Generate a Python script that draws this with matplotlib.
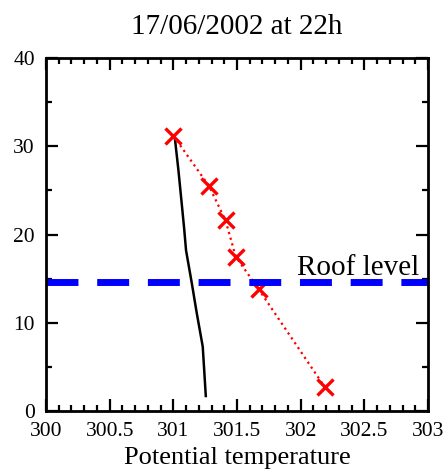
import matplotlib
matplotlib.use("Agg")
import matplotlib.pyplot as plt
from matplotlib.ticker import MultipleLocator

plt.rcParams['font.family'] = ['Liberation Serif', 'DejaVu Serif']

# observed profile (crosses)
obs_theta = [301.00, 301.28, 301.41, 301.49, 301.67, 302.19]
obs_z = [31.2, 25.5, 21.6, 17.5, 13.8, 2.7]

# modelled profile (solid)
mod_theta = [301.01, 301.04, 301.066, 301.085, 301.10, 301.145, 301.184, 301.215, 301.231, 301.244, 301.255]
mod_z = [31.2, 27.3, 23.5, 20.7, 18.2, 14.5, 11.1, 8.6, 7.3, 4.3, 1.7]

roof_z = 14.6

fig = plt.figure(figsize=(4.46, 4.72), dpi=100)
ax = fig.add_axes([0.1031, 0.1292, 0.8565, 0.7479])

ax.plot(mod_theta, mod_z, color='black', lw=1.8)
ax.plot(obs_theta, obs_z, color='red', ls=':', lw=1.6,
        marker='x', ms=12, mew=2.4)
ax.axhline(roof_z, color='blue', lw=5, dashes=(4.6, 2.7), dash_capstyle='butt')
ax.text(302.93, roof_z + 0.8, 'Roof level', fontsize=21, ha='right', va='baseline')

ax.set_xlim(300, 303)
ax.set_ylim(0, 40)
ax.set_xticks([300, 300.5, 301, 301.5, 302, 302.5, 303])
ax.set_xticklabels(['300', '300.5', '301', '301.5', '302', '302.5', '303'])
ax.xaxis.set_minor_locator(MultipleLocator(0.1))
ax.yaxis.set_major_locator(MultipleLocator(10))
ax.yaxis.set_minor_locator(MultipleLocator(5))

ax.tick_params(which='both', direction='in', top=True, right=True, width=1.6, labelsize=15.5)
ax.tick_params(which='major', length=8.5, pad=8)
ax.tick_params(which='minor', length=4.5)
for s in ax.spines.values():
    s.set_linewidth(2)

ax.set_xlabel('Potential temperature', fontsize=19, labelpad=4)
ax.set_title('17/06/2002 at 22h', fontsize=21, pad=17)

fig.savefig('out.png', dpi=100)
